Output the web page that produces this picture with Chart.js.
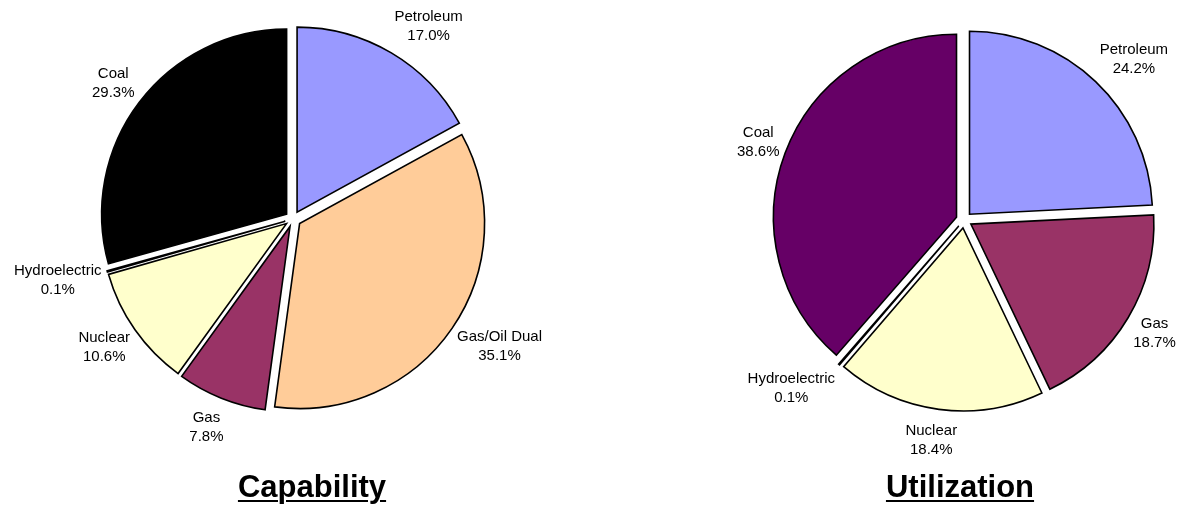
<!DOCTYPE html>
<html>
<head>
<meta charset="utf-8">
<script src="https://cdn.jsdelivr.net/npm/chart.js@4/dist/chart.umd.min.js"></script>
<style>
  html, body { margin: 0; padding: 0; background: #ffffff; }
  #wrap { position: relative; width: 1186px; height: 508px; overflow: hidden; }
  canvas { position: absolute; top: 0; }
  #capCanvas { left: 0; }
  #utilCanvas { left: 600px; }
  .title {
    position: absolute; top: 469px; line-height: 36px;
    font-family: "Liberation Sans", Arial, sans-serif;
    font-weight: bold; font-size: 31px; color: #000;
    text-decoration: underline; text-decoration-thickness: 2px; text-underline-offset: 3px;
    transform: translateX(-50%); white-space: nowrap;
  }
</style>
</head>
<body>
<div id="wrap">
  <canvas id="capCanvas" width="586" height="508"></canvas>
  <canvas id="utilCanvas" width="586" height="508"></canvas>
  <div class="title" style="left:312px">Capability</div>
  <div class="title" style="left:960px">Utilization</div>
</div>
<script>
// Generating capability by fuel type (% of total)
const capabilityLabels = ['Petroleum', 'Gas/Oil Dual', 'Gas', 'Nuclear', 'Hydroelectric', 'Coal'];
const capabilityShares = [17.0, 35.1, 7.8, 10.6, 0.1, 29.3];

// Generation (utilization) by fuel type (% of total)
const utilizationLabels = ['Petroleum', 'Gas', 'Nuclear', 'Hydroelectric', 'Coal'];
const utilizationShares = [24.2, 18.7, 18.4, 0.1, 38.6];

const capabilityColors = ['#9999FF', '#FFCC99', '#993366', '#FFFFCC', '#CCFFFF', '#000000'];
const utilizationColors = ['#9999FF', '#993366', '#FFFFCC', '#CCFFFF', '#660066'];

// Pulls every slice out from the centre along its bisector.
const explodeSlices = {
  id: 'explodeSlices',
  beforeDatasetsDraw(chart, args, opts) {
    chart.getDatasetMeta(0).data.forEach(arc => {
      if (arc._exploded) return;
      const baseDraw = arc.draw;
      arc.draw = function (ctx, area) {
        const mid = (this.startAngle + this.endAngle) / 2;
        ctx.save();
        ctx.translate(Math.cos(mid) * opts.distance, Math.sin(mid) * opts.distance);
        baseDraw.call(this, ctx, area);
        ctx.restore();
      };
      arc._exploded = true;
    });
  }
};

// Two-line "name / percent" labels placed just outside each slice.
const sliceLabels = {
  id: 'sliceLabels',
  afterDatasetsDraw(chart, args, opts) {
    const ctx = chart.ctx;
    const meta = chart.getDatasetMeta(0);
    const values = chart.data.datasets[0].data;
    const explode = chart.options.plugins.explodeSlices.distance || 0;
    ctx.save();
    ctx.font = opts.font;
    ctx.fillStyle = opts.color;
    ctx.textAlign = 'center';
    ctx.textBaseline = 'middle';
    meta.data.forEach((arc, i) => {
      const p = arc.getProps(['x', 'y', 'startAngle', 'endAngle', 'outerRadius'], true);
      const mid = (p.startAngle + p.endAngle) / 2;
      const dx = Math.cos(mid), dy = Math.sin(mid);
      const lines = [chart.data.labels[i], values[i].toFixed(1) + '%'];
      const w = Math.max(...lines.map(t => ctx.measureText(t).width));
      const reach = p.outerRadius + explode + opts.gap;
      const ax = p.x + dx * reach;
      const ay = p.y + dy * reach;
      const cx = ax + Math.max(-1, Math.min(1, dx * 2)) * w / 2;
      const cy = ay + dy * opts.lift;
      ctx.fillText(lines[0], cx, cy - opts.lineHeight / 2);
      ctx.fillText(lines[1], cx, cy + opts.lineHeight / 2);
    });
    ctx.restore();
  }
};

function pieConfig(labels, values, colors, radius, pad) {
  return {
    type: 'pie',
    data: {
      labels: labels,
      datasets: [{
        data: values,
        backgroundColor: colors,
        borderColor: '#000000',
        borderWidth: 1.6,
        borderJoinStyle: 'miter'
      }]
    },
    options: {
      responsive: false,
      animation: false,
      events: [],
      radius: radius,
      layout: { padding: pad },
      plugins: {
        legend: { display: false },
        tooltip: { enabled: false },
        title: { display: false },
        explodeSlices: { distance: 8 },
        sliceLabels: {
          font: '15px "Liberation Sans", Arial, sans-serif',
          color: '#000000',
          gap: 6,
          lift: 25,
          lineHeight: 19
        }
      }
    },
    plugins: [explodeSlices, sliceLabels]
  };
}

new Chart(document.getElementById('capCanvas'),
  pieConfig(capabilityLabels, capabilityShares, capabilityColors, 185,
    { top: 0, left: 0, right: 0, bottom: 70 }));
new Chart(document.getElementById('utilCanvas'),
  pieConfig(utilizationLabels, utilizationShares, utilizationColors, 183,
    { top: 0, left: 142, right: 0, bottom: 68 }));
</script>
</body>
</html>
